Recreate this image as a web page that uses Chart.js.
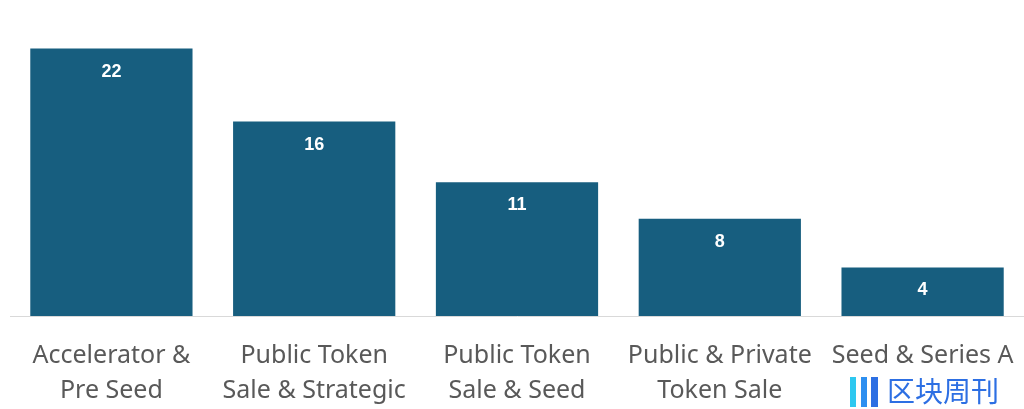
<!DOCTYPE html>
<html>
<head>
<meta charset="utf-8">
<script src="https://cdn.jsdelivr.net/npm/chart.js@4"></script>
<style>
  html, body { margin: 0; padding: 0; background: #fff; }
  #wrap { position: relative; width: 1024px; height: 409px; }
  #mark { position: absolute; left: 850px; top: 372px; font-family: "Noto Sans CJK SC"; font-size: 28px; color: #2d6fe3; line-height: 36px; }
  #mark .ico { display: inline-block; width: 28px; height: 30px; vertical-align: -5px; margin-right: 9px;
    background: linear-gradient(90deg, #2ec8f0 0 20%, transparent 20% 40%, #2d8ff0 40% 60%, transparent 60% 75%, #2d6fe3 75% 100%); }
</style>
</head>
<body>
<div id="wrap">
  <canvas id="myChart" width="1024" height="409"></canvas>
  <div id="mark"><span class="ico"></span>区块周刊</div>
</div>
<script>
var categories = [["Accelerator &", "Pre Seed"], ["Public Token", "Sale & Strategic"], ["Public Token", "Sale & Seed"], ["Public & Private", "Token Sale"], ["Seed & Series A"]]
var counts = [22, 16, 11, 8, 4]

// white numbers inside the bars
var valueLabels = {
	id: 'valueLabels',
	afterDatasetsDraw: function(chart){
		var ctx = chart.ctx
		var meta = chart.getDatasetMeta(0)
		ctx.save()
		ctx.fillStyle = '#ffffff'
		ctx.font = 'bold 18px "Liberation Sans", Arial, sans-serif'
		ctx.textAlign = 'center'
		ctx.textBaseline = 'middle'
		meta.data.forEach(function(bar, i){
			ctx.fillText(counts[i], bar.x, bar.y + 23)
		})
		ctx.restore()
	}
}

var mychart = document.getElementById("myChart").getContext('2d')

var chart = new Chart(mychart, {
	type: 'bar',
	data: {
		labels: categories,
		datasets: [{
			data: counts,
			backgroundColor: '#175e7f',
			categoryPercentage: 0.8,
			barPercentage: 1
		}]
	},
	options: {
		responsive: false,
		animation: false,
		layout: { padding: { left: 10, right: 0, top: 0, bottom: 0 } },
		plugins: { legend: { display: false }, tooltip: { enabled: false } },
		scales: {
			x: {
				grid: { display: false },
				border: { color: '#d9d9d9', width: 1 },
				ticks: {
					color: '#595959',
					font: { family: 'Noto Sans', size: 25, lineHeight: 1.4 },
					padding: 14,
					maxRotation: 0,
					autoSkip: false
				},
				afterFit: function(scale){
					scale.height = 93
					scale.paddingLeft = 0
					scale.paddingRight = 0
				}
			},
			y: {
				display: false,
				min: 0,
				max: 26
			}
		}
	},
	plugins: [valueLabels]
})
</script>
</body>
</html>
